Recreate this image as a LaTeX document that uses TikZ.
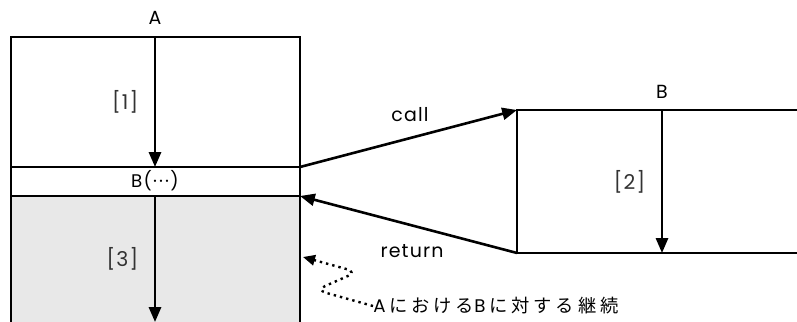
\documentclass[tikz,border=0pt]{standalone}
\usepackage{fontspec}
\setmainfont{Noto Sans CJK JP}
\newfontfamily\geo[LetterSpace=6]{Poppins}
\usetikzlibrary{arrows.meta,positioning}
\definecolor{contgray}{HTML}{E8E8E8}
\tikzset{
  >={Triangle[length=3.7mm,width=3mm]},
  frame/.style={draw=black,line width=0.65mm},
  flow/.style={->,draw=black,line width=0.65mm},
  lbl/.style={font=\geo\fontsize{13.5}{15}\selectfont,inner sep=1pt},
  stepno/.style={font=\geo\fontsize{14.5}{16}\selectfont,inner sep=1pt,text=black!80},
  cont/.style={-{Triangle[length=3mm,width=2.6mm]},draw=black,line width=0.6mm,
               dash pattern=on 0.6mm off 1mm,rounded corners=2.5mm},
}

\begin{document}
\begin{tikzpicture}[x=0.25mm,y=-0.25mm]
\useasboundingbox (0,0) rectangle (797,322);
  % caller A
  \coordinate (Atl) at (11,37);  \coordinate (Atr) at (300,37);
  \coordinate (Acl) at (11,167); \coordinate (Acr) at (300,167);
  \coordinate (Arl) at (11,196); \coordinate (Arr) at (300,196);
  \coordinate (Abl) at (11,322); \coordinate (Abr) at (300,322);
  \fill[contgray] (Arl) rectangle (Abr);
  \draw[frame] (Abl) -- (Atl) -- (Atr) -- (Abr);
  \draw[frame] (Acl) -- (Acr);
  \draw[frame] (Arl) -- (Arr);
  \node[lbl] (nameA) at (155,18) {A};
  \node[lbl,font=\geo\fontsize{13}{14}\selectfont] (callB) at (155,181)
    {B(\kern1pt·\kern1.5pt·\kern1.5pt·\kern1pt)};
  \draw[flow] (155,37) -- node[stepno,left=3.5mm] (s1) {[1]} (155,167);
  \draw[flow] (155,196) -- node[stepno,left=3.5mm,pos=0.5] (s3) {[3]} (155,322);
  % callee B
  \coordinate (Btl) at (517,110); \coordinate (Btr) at (797,110);
  \coordinate (Bbl) at (517,253); \coordinate (Bbr) at (797,253);
  \draw[frame] (Btr) -- (Btl) -- (Bbl) -- (Bbr);
  \node[lbl] (nameB) at (662,92) {B};
  \draw[flow] (662,110) -- node[stepno,left=3.5mm] (s2) {[2]} (662,253);
  % call / return
  \draw[flow] (Acr) -- (Btl);
  \draw[flow] (Bbl) -- (Arr);
  \node[lbl] (call) at (410,115) {call};
  \node[lbl] (ret) at (412,251) {return};
  % continuation
  \node[font=\fontsize{13}{15}\selectfont,anchor=west,inner sep=0pt] (contlbl) at (373,306)
    {\addfontfeature{LetterSpace=22}{\geo A}\hspace{2.5pt}における{\geo B}\hspace{2.5pt}に対する継続};
  \draw[cont] (contlbl.west) -- (316,290) -- (357,272) -- (303,257);
\end{tikzpicture}
\end{document}
